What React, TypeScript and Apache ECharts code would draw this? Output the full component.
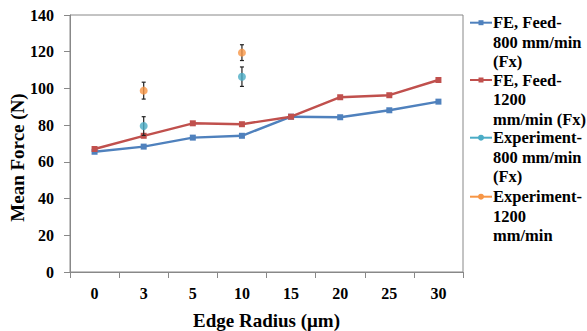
import React, { useEffect, useRef } from "react";
import * as echarts from "echarts";

const categories = ["0", "3", "5", "10", "15", "20", "25", "30"];
const feFeed800 = [65.5, 68.3, 73.2, 74.2, 84.6, 84.3, 88.1, 92.8];
const feFeed1200 = [67.0, 74.2, 81.0, 80.5, 84.6, 95.2, 96.3, 104.6];
const exp800 = [null, 79.5, null, 106.4, null, null, null, null];
const exp1200 = [null, 98.8, null, 119.5, null, null, null, null];
const exp800Err = [null, 5.1, null, 5.3, null, null, null, null];
const exp1200Err = [null, 4.6, null, 4.3, null, null, null, null];
const yTicks = { min: 0, max: 140, interval: 20 };

const legendItems = [
  { lines: ["FE, Feed-", "800 mm/min", "(Fx)"], color: "#4F81BD", symbol: "rect" },
  { lines: ["FE, Feed-", "1200", "mm/min (Fx)"], color: "#C0504D", symbol: "rect" },
  { lines: ["Experiment-", "800 mm/min", "(Fx)"], color: "#4BACC6", symbol: "circle" },
  { lines: ["Experiment-", "1200", "mm/min"], color: "#F79646", symbol: "circle" },
];

const FONT = "Liberation Serif";

function errData(vals: (number | null)[], errs: (number | null)[]) {
  const out: any[] = [];
  vals.forEach((v, i) => {
    const e = errs[i];
    if (v != null && e != null) out.push([i, v - e, v + e]);
  });
  return out;
}

function renderErr(params: any, api: any) {
  const x = api.value(0);
  const lo = api.coord([x, api.value(1)]);
  const hi = api.coord([x, api.value(2)]);
  const cap = 2;
  const style = { stroke: "#222", lineWidth: 1.2 };
  return {
    type: "group",
    children: [
      { type: "line", shape: { x1: lo[0], y1: lo[1], x2: hi[0], y2: hi[1] }, style },
      { type: "line", shape: { x1: lo[0] - cap, y1: lo[1], x2: lo[0] + cap, y2: lo[1] }, style },
      { type: "line", shape: { x1: hi[0] - cap, y1: hi[1], x2: hi[0] + cap, y2: hi[1] }, style },
    ],
  };
}

export default function App() {
  const ref = useRef<HTMLDivElement>(null);
  useEffect(() => {
    if (!ref.current) return;
    const chart = echarts.init(ref.current, null, { renderer: "svg" });

    const graphics: any[] = [];
    const starts = [22.7, 80, 137.7, 196.7];
    const lineH = 19.5;
    legendItems.forEach((it, k) => {
      const y = starts[k];
      graphics.push({
        type: "line",
        shape: { x1: 470, y1: y, x2: 492, y2: y },
        style: { stroke: it.color, lineWidth: 2 },
      });
      if (it.symbol === "rect") {
        graphics.push({
          type: "rect",
          shape: { x: 478.5, y: y - 2.5, width: 5, height: 5 },
          style: { fill: it.color },
        });
      } else {
        graphics.push({
          type: "circle",
          shape: { cx: 481, cy: y, r: 3 },
          style: { fill: it.color },
        });
      }
      it.lines.forEach((t, j) => {
        graphics.push({
          type: "text",
          x: 493,
          y: y + j * lineH,
          style: {
            text: t,
            fill: "#000",
            fontFamily: FONT,
            fontWeight: "bold",
            fontSize: 16.5,
            verticalAlign: "middle",
          },
        });
      });
    });

    const tickStyle = { fontFamily: FONT, fontWeight: "bold" as const, fontSize: 16, color: "#000" };
    const titleStyle = { fontFamily: FONT, fontWeight: "bold" as const, fontSize: 19, color: "#000" };

    chart.setOption({
      animation: false,
      backgroundColor: "#fff",
      textStyle: { fontFamily: FONT },
      grid: {
        left: 70,
        right: 124,
        top: 15,
        bottom: 59,
        containLabel: false,
        outerBoundsMode: "none",
        show: true,
        borderColor: "#888",
        borderWidth: 1,
      },
      xAxis: {
        type: "category",
        data: categories,
        boundaryGap: true,
        name: "Edge Radius (μm)",
        nameLocation: "middle",
        nameGap: 39,
        nameMoveOverlap: false,
        nameTextStyle: titleStyle,
        axisLine: { lineStyle: { color: "#888" } },
        axisTick: { show: true, length: 6, lineStyle: { color: "#888" } },
        axisLabel: { ...tickStyle, margin: 13 },
        splitLine: { show: false },
      },
      yAxis: {
        type: "value",
        min: yTicks.min,
        max: yTicks.max,
        interval: yTicks.interval,
        name: "Mean Force (N)",
        nameLocation: "middle",
        nameGap: 43,
        nameMoveOverlap: false,
        nameTextStyle: { ...titleStyle, padding: [0, 28, 0, 0] },
        axisLine: { show: true, lineStyle: { color: "#888" } },
        axisTick: { show: true, length: 6, lineStyle: { color: "#888" } },
        axisLabel: { ...tickStyle, margin: 16 },
        splitLine: { show: false },
      },
      graphic: graphics,
      series: [
        {
          name: "FE, Feed-800 mm/min (Fx)",
          type: "line",
          data: feFeed800,
          symbol: "rect",
          symbolSize: 6,
          itemStyle: { color: "#4F81BD" },
          lineStyle: { color: "#4F81BD", width: 2.4 },
          z: 3,
        },
        {
          name: "FE, Feed-1200 mm/min (Fx)",
          type: "line",
          data: feFeed1200,
          symbol: "rect",
          symbolSize: 6,
          itemStyle: { color: "#C0504D" },
          lineStyle: { color: "#C0504D", width: 2.4 },
          z: 3,
        },
        {
          type: "custom",
          renderItem: renderErr,
          data: errData(exp800, exp800Err),
          z: 4,
        },
        {
          type: "custom",
          renderItem: renderErr,
          data: errData(exp1200, exp1200Err),
          z: 4,
        },
        {
          name: "Experiment-800 mm/min (Fx)",
          type: "scatter",
          data: exp800,
          symbol: "circle",
          symbolSize: 8,
          itemStyle: { color: "#4BACC6" },
          z: 5,
        },
        {
          name: "Experiment-1200 mm/min",
          type: "scatter",
          data: exp1200,
          symbol: "circle",
          symbolSize: 8,
          itemStyle: { color: "#F79646" },
          z: 5,
        },
      ],
    });
    return () => chart.dispose();
  }, []);
  return <div ref={ref} style={{ width: 587, height: 331, position: "fixed", left: 0, top: 0 }} />;
}
